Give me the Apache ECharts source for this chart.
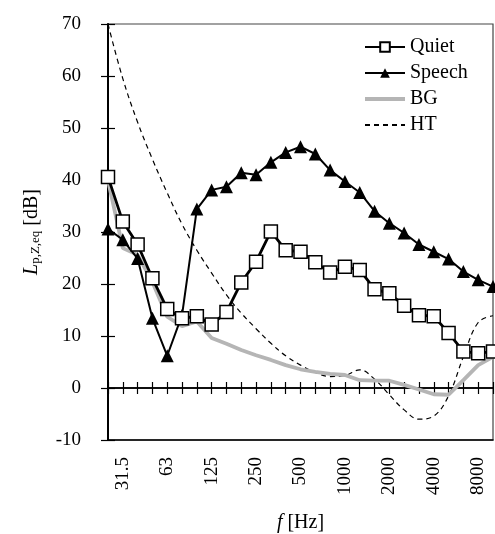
<!DOCTYPE html>
<html>
<head>
<meta charset="utf-8">
<script src="https://cdn.jsdelivr.net/npm/echarts@6/dist/echarts.min.js"></script>
<style>
  html, body { margin: 0; padding: 0; background: #fff; }
  #chart { width: 495px; height: 534px; }
</style>
</head>
<body>
<div id="chart"></div>
<script>
// 1/3 octave bands [Hz]
const bands = ['25', '31.5', '40', '50', '63', '80', '100', '125', '160', '200', '250', '315', '400',
  '500', '630', '800', '1000', '1250', '1600', '2000', '2500', '3150', '4000', '5000', '6300', '8000', '10000'];

const quiet = [40.6, 32.0, 27.6, 21.1, 15.2, 13.4, 13.8, 12.2, 14.6, 20.3, 24.3, 30.1, 26.5,
  26.2, 24.2, 22.2, 23.3, 22.7, 19.0, 18.2, 15.8, 14.0, 13.8, 10.6, 7.0, 6.7, 7.0];
const speech = [30.6, 28.5, 24.9, 13.4, 6.2, 14.0, 34.4, 38.1, 38.7, 41.4, 41.0, 43.4, 45.3,
  46.4, 45.0, 41.9, 39.7, 37.6, 34.0, 31.7, 29.8, 27.6, 26.2, 24.8, 22.4, 20.8, 19.5];
const bg = [40.0, 26.9, 25.6, 20.4, 13.7, 11.9, 12.8, 9.6, 8.5, 7.3, 6.3, 5.4, 4.4,
  3.6, 3.1, 2.7, 2.5, 1.5, 1.4, 1.4, 0.6, -0.3, -1.2, -1.3, 1.5, 4.4, 6.0];
const ht = [70, 59.5, 51.1, 44.0, 37.5, 31.5, 26.5, 22.1, 17.9, 14.4, 11.4, 8.6, 6.2,
  4.4, 3.0, 2.2, 2.4, 3.5, 1.7, -1.3, -4.2, -6.0, -5.4, -1.5, 6.0, 12.6, 13.9];

const serif = '"Liberation Serif", "DejaVu Serif", serif';

const myChart = echarts.init(document.getElementById('chart'));

// legend entries without a marker
const noMarker = { color: 'rgba(0,0,0,0)', borderColor: 'rgba(0,0,0,0)', borderWidth: 0 };

let option = {
  animation: false,
  textStyle: { fontFamily: serif, color: '#000' },
  grid: {
    left: 108, top: 24, right: 2, bottom: 94,
    show: true, borderColor: '#444', borderWidth: 1.2,
    outerBoundsMode: 'none'
  },
  legend: {
    orient: 'vertical',
    left: 358,
    top: 32,
    itemWidth: 40,
    itemHeight: 12,
    itemGap: 6,
    textStyle: { fontFamily: serif, fontSize: 20, color: '#000' },
    data: [
      { name: 'Quiet' },
      { name: 'Speech' },
      { name: 'BG', itemStyle: noMarker, lineStyle: { width: 4 } },
      { name: 'HT', itemStyle: noMarker }
    ]
  },
  xAxis: [
    {
      // labels at the bottom
      type: 'category',
      data: bands,
      boundaryGap: false,
      position: 'bottom',
      axisLine: { onZero: false, lineStyle: { color: '#000', width: 1.5 } },
      axisTick: { show: false },
      axisLabel: {
        rotate: 90,
        margin: 17,
        fontSize: 19,
        fontFamily: serif,
        color: '#000',
        interval: function (index) { return index % 3 === 1; }
      },
      splitLine: { show: false },
      name: '{i|f} [Hz]',
      nameLocation: 'middle',
      nameGap: 73,
      nameTextStyle: {
        fontFamily: serif, fontSize: 20, color: '#000',
        rich: { i: { fontStyle: 'italic', fontFamily: serif, fontSize: 20 } }
      }
    },
    {
      // zero line, ticks downward
      type: 'category',
      data: bands,
      boundaryGap: false,
      position: 'bottom',
      axisLine: { onZero: true, onZeroAxisIndex: 0, lineStyle: { color: '#000', width: 1.5 } },
      axisTick: { show: true, interval: 0, length: 6, lineStyle: { color: '#000', width: 1.2 } },
      axisLabel: { show: false },
      splitLine: { show: false }
    },
    {
      // zero line, ticks upward
      type: 'category',
      data: bands,
      boundaryGap: false,
      position: 'bottom',
      axisLine: { onZero: true, onZeroAxisIndex: 1, lineStyle: { color: '#000', width: 1.5 } },
      axisTick: { show: true, inside: true, interval: 0, length: 6, lineStyle: { color: '#000', width: 1.2 } },
      axisLabel: { show: false },
      splitLine: { show: false }
    }
  ],
  yAxis: [
    {
      type: 'value',
      min: -10,
      max: 70,
      interval: 10,
      position: 'left',
      axisLine: { show: true, lineStyle: { color: '#000', width: 2 } },
      axisTick: { show: true, length: 7, lineStyle: { color: '#000', width: 1.2 } },
      axisLabel: { fontSize: 19, fontFamily: serif, color: '#000', margin: 27 },
      splitLine: { show: false },
      name: '{i|L}{s|p,Z,eq} [dB]',
      nameLocation: 'middle',
      nameRotate: 90,
      nameGap: 66,
      nameTextStyle: {
        fontFamily: serif, fontSize: 20, color: '#000',
        rich: {
          i: { fontStyle: 'italic', fontFamily: serif, fontSize: 20 },
          s: { fontFamily: serif, fontSize: 13, verticalAlign: 'bottom', lineHeight: 10 }
        }
      }
    },
    {
      // inner half of the crossing ticks
      type: 'value',
      min: -10,
      max: 70,
      interval: 10,
      position: 'left',
      axisLine: { show: false },
      axisTick: { show: true, inside: true, length: 7, lineStyle: { color: '#000', width: 1.2 } },
      axisLabel: { show: false },
      splitLine: { show: false }
    }
  ],
  series: [
    {
      name: 'HT',
      type: 'line',
      data: ht,
      smooth: 0.4,
      symbol: 'none',
      lineStyle: { color: '#000', width: 1.2, type: [5, 4] },
      itemStyle: { color: '#000' },
      z: 2
    },
    {
      name: 'BG',
      type: 'line',
      data: bg,
      symbol: 'none',
      lineStyle: { color: '#b5b5b5', width: 3.8 },
      itemStyle: { color: '#b5b5b5' },
      z: 3
    },
    {
      name: 'Speech',
      type: 'line',
      data: speech,
      symbol: 'triangle',
      symbolSize: 13,
      showAllSymbol: true,
      lineStyle: { color: '#000', width: 2 },
      itemStyle: { color: '#000' },
      z: 4
    },
    {
      name: 'Quiet',
      type: 'line',
      data: quiet,
      symbol: 'rect',
      symbolSize: 13,
      showAllSymbol: true,
      lineStyle: { color: '#000', width: 2.8 },
      itemStyle: { color: '#fff', borderColor: '#000', borderWidth: 1.5 },
      z: 5
    }
  ]
};

myChart.setOption(option);
window.addEventListener('resize', () => {
  if (myChart) {
    myChart.resize();
  }
});
</script>
</body>
</html>
